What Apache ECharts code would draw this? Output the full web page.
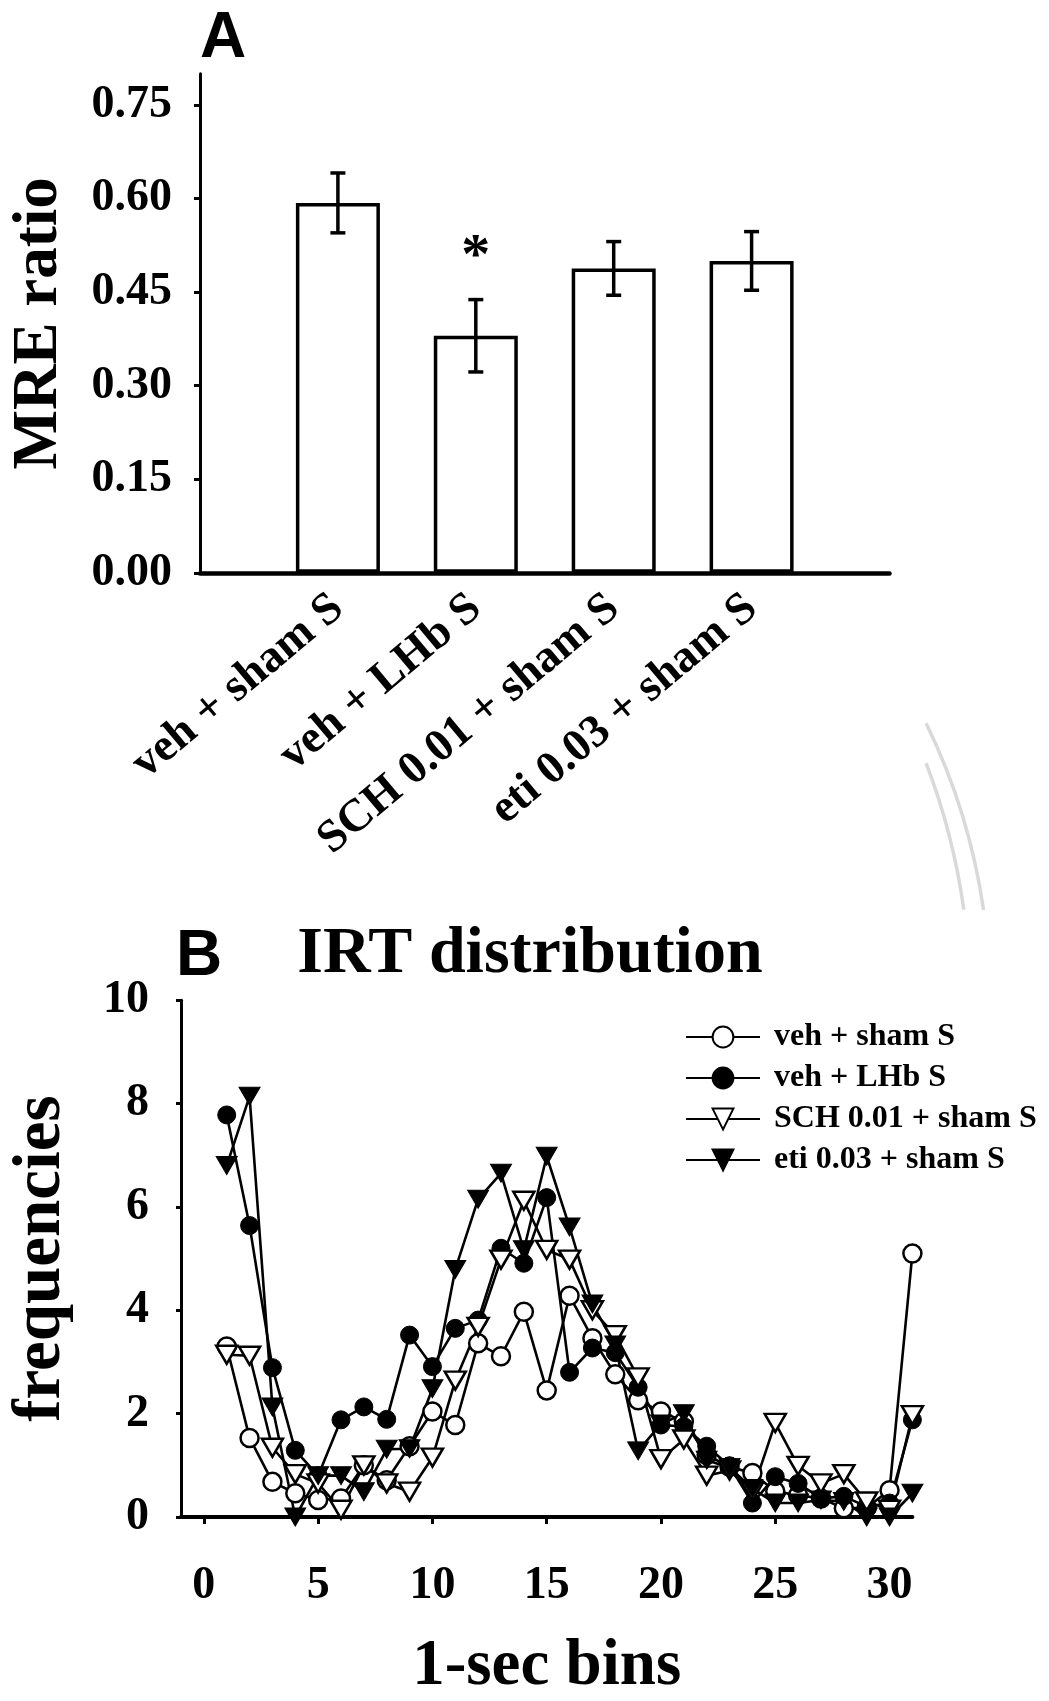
<!DOCTYPE html>
<html>
<head>
<meta charset="utf-8">
<script src="https://cdn.jsdelivr.net/npm/echarts@6/dist/echarts.min.js"></script>
<style>
  html, body { margin: 0; padding: 0; background: #fff; }
  #chart { width: 1049px; height: 1701px; }
</style>
</head>
<body>
<div id="chart"></div>
<script>
// ---- Panel A: MRE ratio per group (mean ± SEM) ----
const groups = ['veh + sham S', 'veh + LHb S', 'SCH 0.01 + sham S', 'eti 0.03 + sham S'];
const mreMean = [0.593, 0.380, 0.488, 0.500];
const mreSem = [0.048, 0.058, 0.043, 0.047];
const mreTicks = [0, 0.15, 0.30, 0.45, 0.60, 0.75];
const starGroup = 'veh + LHb S';
const starLevel = 0.505;

// ---- Panel B: IRT distribution, frequencies per 1-sec bin ----
const bins = [1, 2, 3, 4, 5, 6, 7, 8, 9, 10, 11, 12, 13, 14, 15, 16, 17, 18, 19, 20, 21, 22, 23, 24, 25, 26, 27, 28, 29, 30, 31];
const vehSham = [3.30, 1.53, 0.68, 0.46, 0.33, 0.36, 1.00, 0.71, 1.37, 2.04, 1.78, 3.36, 3.11, 3.97, 2.45, 4.28, 3.46, 2.76, 2.26, 2.04, 1.85, 1.20, 0.97, 0.85, 0.50, 0.42, 0.36, 0.17, 0.18, 0.52, 5.10];
const vehLHb = [7.78, 5.64, 2.89, 1.29, 0.80, 1.88, 2.13, 1.89, 3.52, 2.91, 3.65, 3.81, 5.20, 4.91, 6.18, 2.80, 3.27, 3.18, 2.51, 1.78, 1.75, 1.37, 0.99, 0.27, 0.78, 0.65, 0.36, 0.40, 0.20, 0.27, 1.88];
const sch001 = [3.14, 3.12, 1.34, 0.83, 0.65, 0.14, 1.00, 0.65, 0.49, 1.15, 2.64, 3.68, 4.98, 6.12, 5.17, 4.98, 4.00, 3.52, 2.70, 1.12, 1.50, 0.80, 0.90, 0.49, 1.82, 0.99, 0.65, 0.83, 0.30, 0.14, 1.97];
const eti003 = [6.80, 8.14, 2.13, 0.00, 0.80, 0.80, 0.49, 1.31, 1.32, 2.48, 4.79, 6.15, 6.65, 5.17, 6.98, 5.61, 4.12, 3.33, 1.28, 1.80, 2.00, 1.10, 0.96, 0.55, 0.27, 0.27, 0.33, 0.30, 0.00, 0.00, 0.46];
const binTicks = [0, 5, 10, 15, 20, 25, 30];
const freqTicks = [0, 2, 4, 6, 8, 10];

const SERIF = '"Liberation Serif", "Times New Roman", serif';
const SANS = '"Liberation Sans", Arial, sans-serif';
const INK = '#000';

// category slots with an empty slot at each end, so bars sit on the inner ticks
const slotsA = [''].concat(groups, ['']);
const barData = ['-'].concat(mreMean, ['-']);
const errData = groups.map((g, i) => [i + 1, mreMean[i] - mreSem[i], mreMean[i] + mreSem[i]]);

function pairs(vals) { return bins.map((b, i) => [b, vals[i]]); }

const openStyle = { color: '#fff', borderColor: INK, borderWidth: 2.5 };
const fillStyle = { color: INK, borderColor: INK, borderWidth: 1 };

function lineSeries(name, vals, symbol, filled) {
  const s = {
    name: name,
    type: 'line',
    xAxisIndex: 1,
    yAxisIndex: 1,
    data: pairs(vals),
    symbol: symbol,
    symbolSize: symbol === 'circle' ? 18 : [21, 18],
    showAllSymbol: true,
    clip: false,
    lineStyle: { color: INK, width: 2.6 },
    itemStyle: filled ? fillStyle : openStyle,
    emphasis: { disabled: true },
    z: 3
  };
  if (symbol === 'triangle') s.symbolRotate = 180;
  return s;
}

const chart = echarts.init(document.getElementById('chart'), null, { renderer: 'canvas' });

chart.setOption({
  animation: false,
  backgroundColor: '#fff',
  grid: [
    { left: 198.5, top: 73.8, width: 691, height: 499 },
    { left: 173.6, top: 1000.2, width: 738.8, height: 527.2 }
  ],
  xAxis: [
    {
      gridIndex: 0,
      type: 'category',
      data: slotsA,
      boundaryGap: false,
      axisLine: { show: true, lineStyle: { color: INK, width: 4.5 } },
      axisTick: { show: false },
      axisLabel: {
        interval: 0, rotate: 40, margin: 30,
        color: INK, fontFamily: SERIF, fontWeight: 'bold', fontSize: 46
      },
      splitLine: { show: false }
    },
    {
      gridIndex: 1,
      type: 'value',
      min: -1, max: 31,
      axisLine: { show: true, onZero: false, lineStyle: { color: INK, width: 4 } },
      axisTick: { show: true, customValues: binTicks, length: 7, lineStyle: { color: INK, width: 3 } },
      axisLabel: {
        customValues: binTicks, margin: 46,
        color: INK, fontFamily: SERIF, fontWeight: 'bold', fontSize: 46
      },
      splitLine: { show: false },
      name: '1-sec bins',
      nameLocation: 'middle',
      nameGap: 118,
      nameTextStyle: { color: INK, fontFamily: SERIF, fontWeight: 'bold', fontSize: 65 }
    }
  ],
  yAxis: [
    {
      gridIndex: 0,
      type: 'value',
      min: 0, max: 0.8,
      axisLine: { show: true, lineStyle: { color: INK, width: 3 } },
      axisTick: { show: true, customValues: mreTicks, length: 6, lineStyle: { color: INK, width: 3 } },
      axisLabel: {
        customValues: mreTicks, margin: 28,
        formatter: v => v.toFixed(2),
        color: INK, fontFamily: SERIF, fontWeight: 'bold', fontSize: 46
      },
      splitLine: { show: false },
      name: 'MRE ratio',
      nameLocation: 'middle',
      nameGap: 129,
      nameTextStyle: { color: INK, fontFamily: SERIF, fontWeight: 'bold', fontSize: 63 }
    },
    {
      gridIndex: 1,
      type: 'value',
      min: 0, max: 10, interval: 2,
      axisLine: { show: true, onZero: false, lineStyle: { color: INK, width: 3 } },
      axisTick: { show: true, length: 5, lineStyle: { color: INK, width: 3 } },
      axisLabel: {
        margin: 32,
        color: INK, fontFamily: SERIF, fontWeight: 'bold', fontSize: 46
      },
      splitLine: { show: false },
      name: 'frequencies',
      nameLocation: 'middle',
      nameGap: 106,
      nameTextStyle: { color: INK, fontFamily: SERIF, fontWeight: 'bold', fontSize: 67 }
    }
  ],
  legend: {
    orient: 'vertical',
    left: 680,
    top: 1016,
    itemWidth: 74,
    itemHeight: 26,
    itemGap: 9,
    selectedMode: false,
    data: ['veh + sham S', 'veh + LHb S', 'SCH 0.01 + sham S', 'eti 0.03 + sham S'],
    textStyle: {
      color: INK, fontFamily: SERIF, fontWeight: 'bold', fontSize: 32, lineHeight: 32,
      padding: [0, 0, 0, 9]
    }
  },
  series: [
    {
      type: 'bar',
      xAxisIndex: 0, yAxisIndex: 0,
      data: barData,
      barWidth: 84,
      itemStyle: { color: '#fff', borderColor: INK, borderWidth: 3.5 },
      emphasis: { disabled: true },
      z: 2
    },
    {
      type: 'custom',
      xAxisIndex: 0, yAxisIndex: 0,
      data: errData,
      encode: { x: 0, y: [1, 2] },
      z: 4,
      renderItem: function (params, api) {
        const lo = api.coord([api.value(0), api.value(1)]);
        const hi = api.coord([api.value(0), api.value(2)]);
        const hw = 7.5;
        const st = { stroke: INK, lineWidth: 3.5 };
        return {
          type: 'group',
          children: [
            { type: 'line', shape: { x1: lo[0], y1: lo[1], x2: hi[0], y2: hi[1] }, style: st },
            { type: 'line', shape: { x1: lo[0] - hw, y1: lo[1], x2: lo[0] + hw, y2: lo[1] }, style: st },
            { type: 'line', shape: { x1: hi[0] - hw, y1: hi[1], x2: hi[0] + hw, y2: hi[1] }, style: st }
          ]
        };
      }
    },
    {
      // significance marker above the LHb group
      type: 'scatter',
      xAxisIndex: 0, yAxisIndex: 0,
      data: [[slotsA.indexOf(starGroup), starLevel]],
      symbolSize: 0,
      itemStyle: { color: INK, opacity: 1 },
      label: {
        show: true, position: 'inside', formatter: '*',
        color: INK, opacity: 1, fontFamily: SERIF, fontWeight: 'bold', fontSize: 58,
        textBorderWidth: 0
      },
      emphasis: { disabled: true },
      z: 5
    },
    lineSeries('veh + sham S', vehSham, 'circle', false),
    lineSeries('veh + LHb S', vehLHb, 'circle', true),
    lineSeries('SCH 0.01 + sham S', sch001, 'triangle', false),
    lineSeries('eti 0.03 + sham S', eti003, 'triangle', true)
  ],
  graphic: [
    // faint decorative arcs behind the lower right of panel A
    {
      type: 'arc', z: -1, silent: true,
      shape: { cx: 359, cy: 1000, r: 631, startAngle: -0.454, endAngle: -0.143, clockwise: true },
      style: { stroke: '#d9d9d9', lineWidth: 3.5, fill: null }
    },
    {
      type: 'arc', z: -1, silent: true,
      shape: { cx: 310, cy: 1000, r: 660, startAngle: -0.367, endAngle: -0.137, clockwise: true },
      style: { stroke: '#d9d9d9', lineWidth: 3.5, fill: null }
    },
    {
      type: 'text', x: 223, y: 39,
      style: { text: 'A', fontFamily: SANS, fontWeight: 'bold', fontSize: 64, fill: INK, align: 'center', verticalAlign: 'middle' }
    },
    {
      type: 'text', x: 199, y: 957,
      style: { text: 'B', fontFamily: SANS, fontWeight: 'bold', fontSize: 64, fill: INK, align: 'center', verticalAlign: 'middle' }
    },
    {
      type: 'text', x: 530, y: 955,
      style: { text: 'IRT distribution', fontFamily: SERIF, fontWeight: 'bold', fontSize: 66, fill: INK, align: 'center', verticalAlign: 'middle' }
    }
  ]
});
</script>
</body>
</html>
